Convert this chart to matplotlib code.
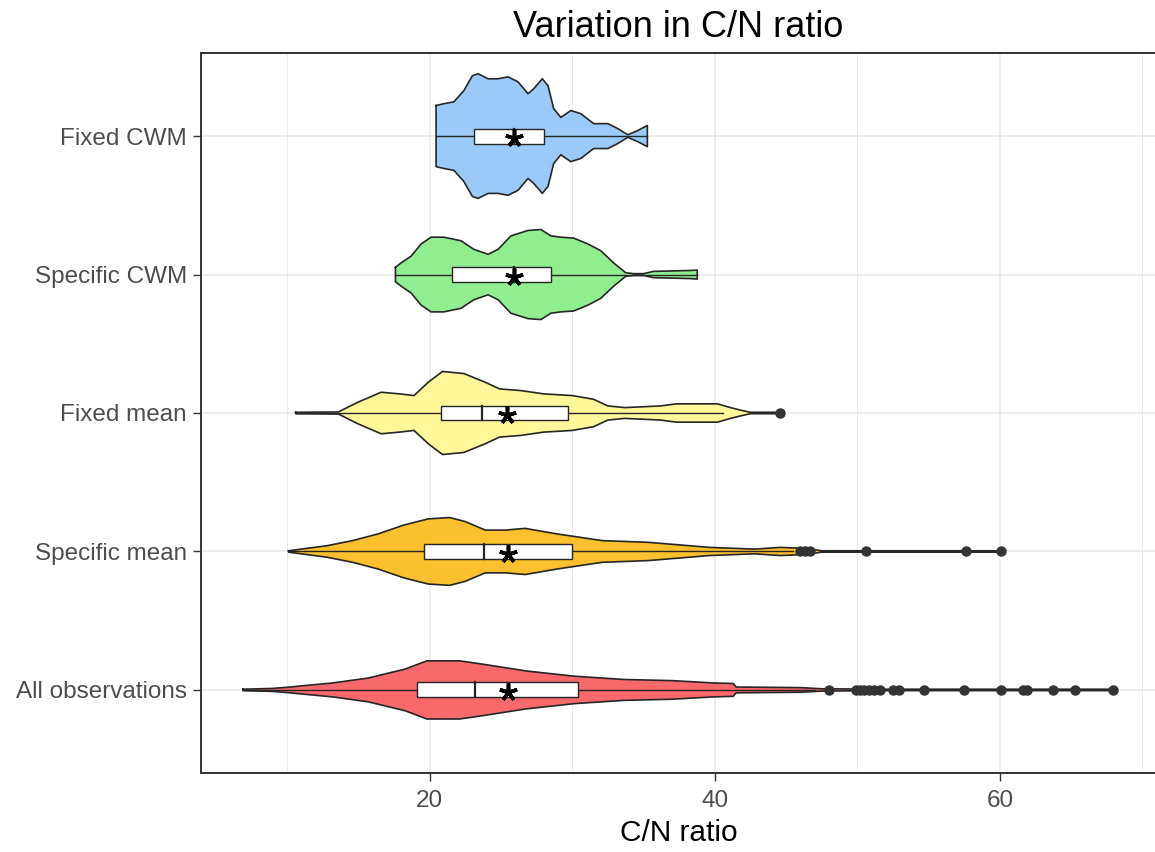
import numpy as np
import matplotlib.pyplot as plt
from matplotlib.ticker import MultipleLocator

plt.rcParams['font.family'] = ['Liberation Sans', 'DejaVu Sans']

# groups from bottom to top
groups = ['All observations', 'Specific mean', 'Fixed mean', 'Specific CWM', 'Fixed CWM']
fills = ['#F8696B', '#FBC02D', '#FFF799', '#90EE90', '#9CCAF8']

# violin outlines: C/N values and relative density (peak = 1)
all_x = [6.9, 8.9, 10.0, 10.6, 13.2, 15.7, 18.3, 19.8, 22.1, 23.8, 26.8, 30.2, 33.6, 37.0, 39.9,
         41.3, 41.5, 46.0, 47.5, 52.0, 67.9]
all_d = [0.024, 0.05, 0.09, 0.12, 0.24, 0.41, 0.72, 1.0, 1.0, 0.88, 0.65, 0.47, 0.36, 0.32, 0.24,
         0.22, 0.10, 0.08, 0.04, 0.024, 0.024]

smean_x = [10.1, 11.0, 12.8, 14.6, 16.4, 18.2, 19.9, 21.4, 22.5, 23.9, 25.3, 26.7, 28.9, 32.1,
           35.3, 38.2, 39.6, 42.8, 44.6, 46.4, 47.5, 60.1]
smean_d = [0.02, 0.07, 0.17, 0.32, 0.52, 0.78, 0.96, 1.0, 0.88, 0.63, 0.63, 0.68, 0.52, 0.32,
           0.27, 0.17, 0.12, 0.07, 0.12, 0.09, 0.02, 0.02]

fmean_x = [10.6, 13.6, 14.9, 16.6, 17.9, 18.9, 19.9, 20.9, 22.4, 23.9, 24.9, 26.4, 28.0, 30.0,
           31.5, 32.5, 33.7, 36.2, 37.3, 40.2, 41.1, 41.8, 42.5, 44.6]
fmean_d = [0.017, 0.025, 0.25, 0.50, 0.46, 0.42, 0.74, 1.0, 0.95, 0.74, 0.58, 0.54, 0.46, 0.42,
           0.33, 0.17, 0.13, 0.17, 0.22, 0.22, 0.13, 0.07, 0.017, 0.017]

scwm_x = [17.6, 18.0, 18.7, 19.4, 20.1, 21.0, 22.2, 23.1, 24.1, 24.8, 25.7, 26.9, 27.8, 28.5,
          29.2, 30.1, 31.1, 32.0, 32.9, 33.75, 34.3, 35.0, 35.7, 38.3, 38.77]
scwm_d = [0.16, 0.26, 0.41, 0.68, 0.83, 0.83, 0.75, 0.56, 0.45, 0.56, 0.86, 0.98, 1.0, 0.86,
          0.83, 0.81, 0.68, 0.53, 0.26, 0.04, 0.02, 0.02, 0.07, 0.09, 0.10]

fcwm_x = [20.45, 21.0, 21.7, 22.4, 23.0, 23.4, 24.1, 24.8, 25.5, 26.2, 26.9, 27.3, 27.9, 28.3,
          28.7, 29.2, 29.9, 30.6, 31.5, 32.5, 33.2, 33.9, 34.6, 35.27]
fcwm_d = [0.49, 0.52, 0.55, 0.73, 0.97, 1.0, 0.92, 0.92, 0.95, 0.87, 0.68, 0.76, 0.92, 0.81,
          0.44, 0.30, 0.41, 0.36, 0.20, 0.20, 0.12, 0.02, 0.09, 0.17]

violin_x = [all_x, smean_x, fmean_x, scwm_x, fcwm_x]
violin_d = [all_d, smean_d, fmean_d, scwm_d, fcwm_d]
peak_width = [0.21, 0.245, 0.30, 0.325, 0.45]   # half-width at the density peak

# box summaries
q1 = [19.1, 19.6, 20.8, 21.6, 23.1]
med = [23.2, 23.8, 23.7, 25.9, 25.9]
q3 = [30.4, 30.0, 29.7, 28.5, 28.0]
wlo = [7.0, 10.1, 10.6, 17.6, 20.45]
whi = [47.0, 45.5, 40.6, 38.77, 35.27]
means = [25.5, 25.5, 25.4, 25.9, 25.9]

outliers = [
    [48.0, 49.9, 50.2, 50.5, 50.8, 51.2, 51.6, 52.5, 52.9, 54.7, 57.5, 60.1, 61.6, 61.9, 63.7,
     65.3, 67.9],
    [46.0, 46.3, 46.7, 50.6, 57.6, 60.1],
    [44.6],
    [],
    [],
]

fig = plt.figure(figsize=(11.55, 8.52), dpi=100)
ax = fig.add_axes([201 / 1155, 79 / 852, 955 / 1155, 720 / 852])

line_col = '#262626'
box_h = 0.054

for i, name in enumerate(groups):
    y = i + 1
    xs = np.array(violin_x[i])
    hw = np.array(violin_d[i]) * peak_width[i]
    ax.fill_between(xs, y - hw, y + hw, facecolor=fills[i], edgecolor='none', zorder=2)
    # outline as a closed polygon
    ox = np.concatenate([xs, xs[::-1], xs[:1]])
    oy = np.concatenate([y + hw, (y - hw)[::-1], [y + hw[0]]])
    ax.plot(ox, oy, color=line_col, lw=1.2, zorder=3)

    # whiskers and box
    ax.plot([wlo[i], q1[i]], [y, y], color=line_col, lw=1.0, zorder=4)
    ax.plot([q3[i], whi[i]], [y, y], color=line_col, lw=1.0, zorder=4)
    ax.add_patch(plt.Rectangle((q1[i], y - box_h), q3[i] - q1[i], 2 * box_h,
                               facecolor='white', edgecolor=line_col, lw=1.0, zorder=5))
    ax.plot([med[i], med[i]], [y - box_h, y + box_h], color=line_col, lw=1.6, zorder=6)

    if outliers[i]:
        ax.plot(outliers[i], [y] * len(outliers[i]), 'o', color='#333333', ms=6.5,
                mec='#333333', zorder=6)

    ax.plot(means[i], y - 0.015, marker=(5, 2, 0), color='black', ms=13, mew=2.6, zorder=7)

ax.set_xlim(3.96, 70.95)
ax.set_ylim(0.4, 5.6)
ax.xaxis.set_major_locator(MultipleLocator(20))
ax.xaxis.set_minor_locator(MultipleLocator(10))
ax.set_yticks(range(1, 6))
ax.set_yticklabels(groups)

ax.grid(True, which='major', color='#EBEBEB', lw=1.2, zorder=0)
ax.grid(True, which='minor', axis='x', color='#EBEBEB', lw=0.7, zorder=0)
ax.set_axisbelow(True)

ax.tick_params(axis='both', which='major', length=5.5, width=1.0, color='#333333',
               labelsize=17.5, labelcolor='#4D4D4D', pad=4.5)
ax.tick_params(axis='x', which='major', pad=6.5)
ax.tick_params(axis='x', which='minor', length=0)
for s in ax.spines.values():
    s.set_color('#333333')
    s.set_linewidth(1.4)

ax.set_xlabel('C/N ratio', fontsize=21.5, color='black', labelpad=5)
fig.text(678.5 / 1155, 1 - 37 / 852, 'Variation in C/N ratio', fontsize=26,
         ha='center', va='baseline', color='black')

fig.savefig('out.png', dpi=100)
